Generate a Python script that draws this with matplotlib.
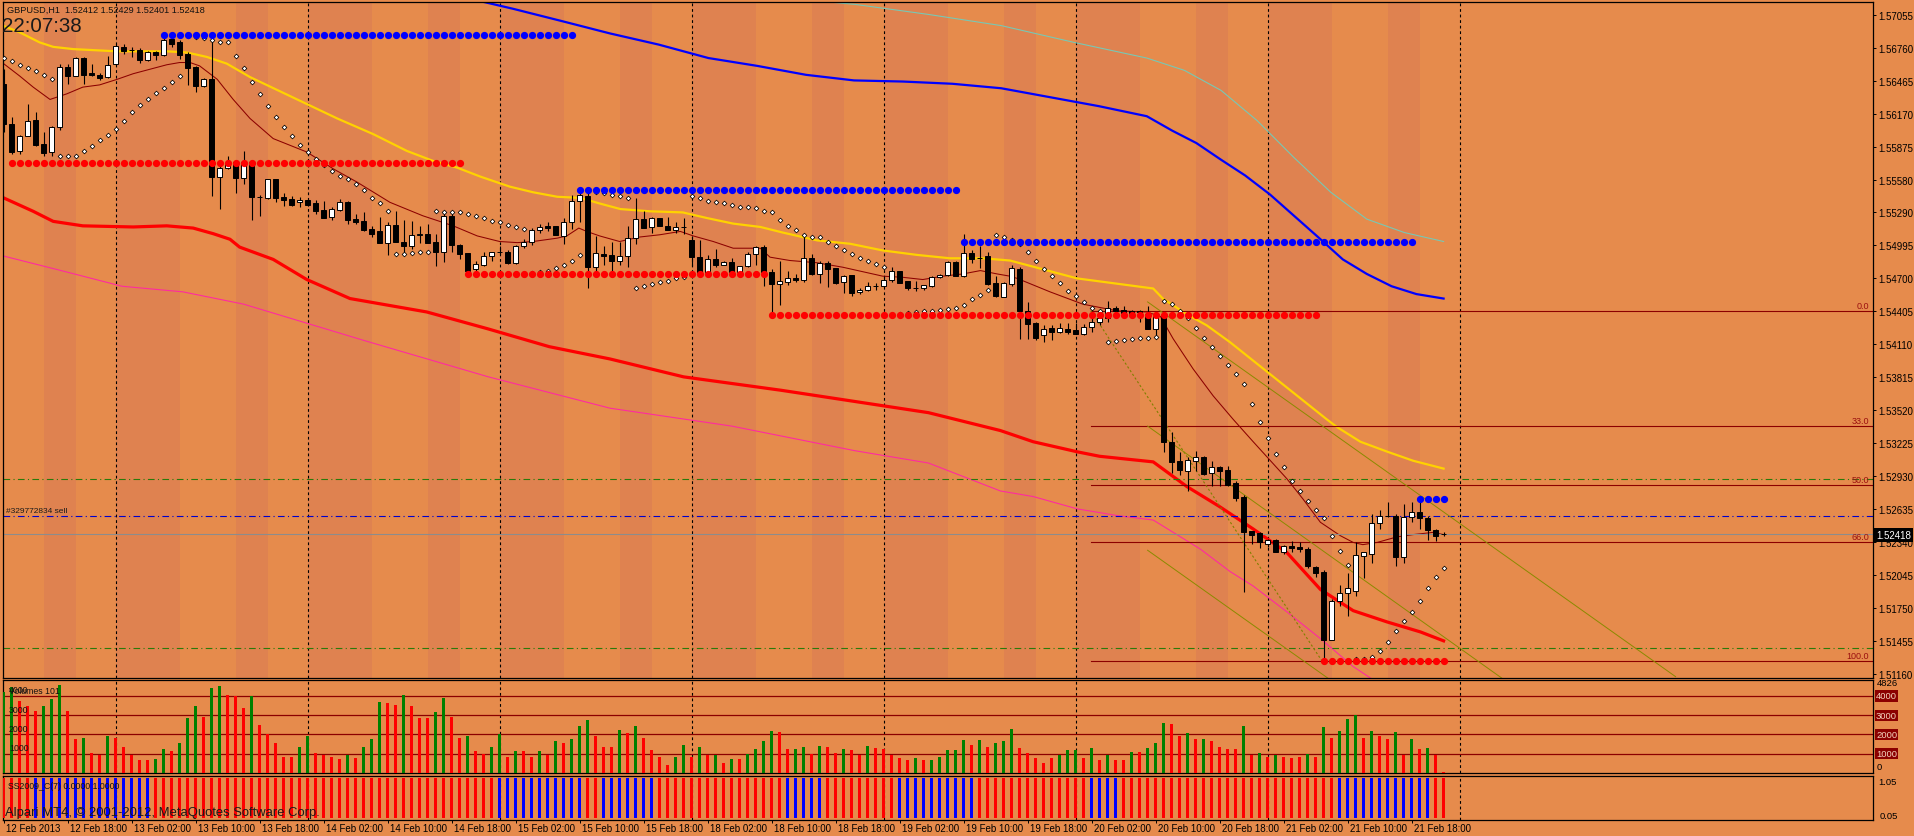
#!/usr/bin/env python3
"""GBPUSD H1 terminal-style chart: candles, MAs, SAR, levels, volumes, SS2009 strip."""

import matplotlib
matplotlib.use("Agg")
import matplotlib.pyplot as plt
import matplotlib.transforms as mtrans
import numpy as np

plt.rcParams["font.family"] = ["Liberation Sans", "DejaVu Sans"]

W, H = 1914, 837
BG = "#E68B4C"
STRIPE = "#DF8250"

# ---------------- candles (bar 0 = 12 Feb 10:00, one bar per hour) ----------------
opens = [
    1.5644, 1.5608, 1.5584, 1.5597, 1.5612, 1.5590, 1.5583, 1.5605, 1.5659, 1.5651,
    1.5667, 1.5654, 1.5652, 1.5650, 1.5662, 1.5677, 1.5674, 1.5674, 1.5665, 1.5672,
    1.5670, 1.5684, 1.5681, 1.5671, 1.5659, 1.5642, 1.5648, 1.5561, 1.5569, 1.5574,
    1.5560, 1.5574, 1.5543, 1.5542, 1.5559, 1.5543, 1.5541, 1.5538, 1.5540, 1.5537,
    1.5531, 1.5525, 1.5531, 1.5538, 1.5523, 1.5521, 1.5514, 1.5512, 1.5502, 1.5518,
    1.5503, 1.5499, 1.5509, 1.5510, 1.5503, 1.5494, 1.5526, 1.5500, 1.5493, 1.5478,
    1.5482, 1.5490, 1.5494, 1.5494, 1.5484, 1.5499, 1.5503, 1.5513, 1.5517, 1.5517,
    1.5508, 1.5520, 1.5539, 1.5544, 1.5480, 1.5492, 1.5491, 1.5486, 1.5490, 1.5506,
    1.5523, 1.5516, 1.5524, 1.5517, 1.5513, 1.5516, 1.5504, 1.5489, 1.5474, 1.5487,
    1.5482, 1.5485, 1.5476, 1.5481, 1.5492, 1.5498, 1.5476, 1.5465, 1.5467, 1.5470,
    1.5469, 1.5488, 1.5474, 1.5484, 1.5479, 1.5467, 1.5473, 1.5458, 1.5460, 1.5463,
    1.5463, 1.5469, 1.5477, 1.5468, 1.5461, 1.5461, 1.5463, 1.5471, 1.5473, 1.5485,
    1.5472, 1.5493, 1.5488, 1.5490, 1.5466, 1.5453, 1.5465, 1.5478, 1.5441, 1.5430,
    1.5419, 1.5426, 1.5422, 1.5425, 1.5424, 1.5420, 1.5427, 1.5431, 1.5435, 1.5444,
    1.5442, 1.5441, 1.5441, 1.5438, 1.5425, 1.5436, 1.5324, 1.5307, 1.5298, 1.5307,
    1.5310, 1.5296, 1.5301, 1.5299, 1.5287, 1.5275, 1.5244, 1.5242, 1.5233, 1.5236,
    1.5225, 1.5231, 1.5230, 1.5228, 1.5212, 1.5208, 1.5147, 1.5182, 1.5189, 1.5191,
    1.5222, 1.5224, 1.5251, 1.5258, 1.5258, 1.5221, 1.5257, 1.5261, 1.5256, 1.5245,
    1.52412,
]
highs = [
    1.5657, 1.5614, 1.5598, 1.5626, 1.5619, 1.5601, 1.5606, 1.5662, 1.5662, 1.5668,
    1.5668, 1.5662, 1.5654, 1.5669, 1.5680, 1.5680, 1.5677, 1.5676, 1.5673, 1.5673,
    1.5685, 1.5687, 1.5683, 1.5672, 1.5660, 1.5649, 1.5683, 1.5571, 1.5579, 1.5574,
    1.5584, 1.5575, 1.5545, 1.5559, 1.5559, 1.5546, 1.5544, 1.5543, 1.5541, 1.5540,
    1.5539, 1.5534, 1.5541, 1.5539, 1.5528, 1.5529, 1.5517, 1.5525, 1.5520, 1.5530,
    1.5522, 1.5521, 1.5517, 1.5519, 1.5510, 1.5528, 1.5528, 1.5501, 1.5493, 1.5486,
    1.5494, 1.5494, 1.5499, 1.5495, 1.5500, 1.5505, 1.5515, 1.5519, 1.5520, 1.5517,
    1.5524, 1.5545, 1.5548, 1.5546, 1.5508, 1.5499, 1.5503, 1.5503, 1.5517, 1.5542,
    1.5530, 1.5525, 1.5524, 1.5525, 1.5520, 1.5524, 1.5508, 1.5504, 1.5491, 1.5496,
    1.5486, 1.5488, 1.5481, 1.5494, 1.5499, 1.5500, 1.5478, 1.5486, 1.5477, 1.5474,
    1.5510, 1.5492, 1.5486, 1.5486, 1.5479, 1.5473, 1.5473, 1.5461, 1.5467, 1.5466,
    1.5472, 1.5480, 1.5477, 1.5468, 1.5468, 1.5464, 1.5472, 1.5474, 1.5486, 1.5486,
    1.5510, 1.5495, 1.5499, 1.5494, 1.5472, 1.5467, 1.5482, 1.5480, 1.5449, 1.5431,
    1.5428, 1.5428, 1.5430, 1.5430, 1.5430, 1.5429, 1.5435, 1.5441, 1.5450, 1.5445,
    1.5445, 1.5442, 1.5442, 1.5445, 1.5438, 1.5438, 1.5333, 1.5315, 1.5310, 1.5316,
    1.5311, 1.5307, 1.5302, 1.5302, 1.5289, 1.5276, 1.5244, 1.5243, 1.5237, 1.5237,
    1.5232, 1.5235, 1.5234, 1.5230, 1.5213, 1.5209, 1.5183, 1.5196, 1.5207, 1.5234,
    1.5225, 1.5259, 1.5263, 1.5270, 1.5259, 1.5268, 1.5270, 1.5272, 1.5258, 1.5246,
    1.52429,
]
lows = [
    1.5601, 1.5581, 1.5581, 1.5597, 1.5588, 1.5579, 1.5579, 1.5603, 1.5644, 1.5651,
    1.5644, 1.5651, 1.5647, 1.5649, 1.5661, 1.5671, 1.5668, 1.5663, 1.5664, 1.5665,
    1.5669, 1.5677, 1.5666, 1.5643, 1.5637, 1.5641, 1.5544, 1.5532, 1.5568, 1.5546,
    1.5554, 1.5522, 1.5526, 1.5541, 1.5538, 1.5535, 1.5535, 1.5534, 1.5535, 1.5528,
    1.5524, 1.5522, 1.5530, 1.5519, 1.5519, 1.5512, 1.5507, 1.5502, 1.5491, 1.5503,
    1.5494, 1.5496, 1.5502, 1.5502, 1.5481, 1.5485, 1.5494, 1.5487, 1.5475, 1.5477,
    1.5481, 1.5486, 1.5492, 1.5483, 1.5483, 1.5497, 1.5500, 1.5511, 1.5512, 1.5509,
    1.5501, 1.5514, 1.5520, 1.5461, 1.5477, 1.5482, 1.5476, 1.5482, 1.5480, 1.5501,
    1.5515, 1.5511, 1.5517, 1.5513, 1.5511, 1.5510, 1.5481, 1.5471, 1.5474, 1.5480,
    1.5482, 1.5476, 1.5476, 1.5480, 1.5482, 1.5463, 1.5438, 1.5446, 1.5464, 1.5467,
    1.5467, 1.5473, 1.5466, 1.5462, 1.5465, 1.5457, 1.5454, 1.5456, 1.5459, 1.5460,
    1.5462, 1.5467, 1.5466, 1.5460, 1.5459, 1.5460, 1.5462, 1.5470, 1.5472, 1.5472,
    1.5471, 1.5484, 1.5479, 1.5464, 1.5453, 1.5453, 1.5463, 1.5416, 1.5416, 1.5415,
    1.5413, 1.5415, 1.5421, 1.5420, 1.5420, 1.5419, 1.5422, 1.5428, 1.5431, 1.5440,
    1.5438, 1.5436, 1.5431, 1.5425, 1.5418, 1.5315, 1.5296, 1.5294, 1.5280, 1.5298,
    1.5294, 1.5284, 1.5284, 1.5284, 1.5271, 1.5190, 1.5233, 1.5229, 1.5230, 1.5225,
    1.5224, 1.5225, 1.5225, 1.5211, 1.5203, 1.5130, 1.5147, 1.5177, 1.5168, 1.5186,
    1.5202, 1.5216, 1.5246, 1.5257, 1.5213, 1.5216, 1.5252, 1.5246, 1.5236, 1.5235,
    1.52401,
]
closes = [
    1.5608, 1.5583, 1.5597, 1.5611, 1.5589, 1.5582, 1.5605, 1.5659, 1.5651, 1.5667,
    1.5652, 1.5652, 1.5649, 1.5661, 1.5678, 1.5673, 1.5674, 1.5665, 1.5672, 1.5670,
    1.5683, 1.5680, 1.5670, 1.5658, 1.5642, 1.5648, 1.5561, 1.5569, 1.5572, 1.5560,
    1.5574, 1.5543, 1.5543, 1.5559, 1.5542, 1.5540, 1.5536, 1.5540, 1.5536, 1.5530,
    1.5524, 1.5532, 1.5538, 1.5522, 1.5520, 1.5513, 1.5510, 1.5502, 1.5518, 1.5503,
    1.5499, 1.5509, 1.5510, 1.5502, 1.5494, 1.5526, 1.5500, 1.5492, 1.5477, 1.5483,
    1.5490, 1.5494, 1.5494, 1.5484, 1.5499, 1.5503, 1.5513, 1.5516, 1.5515, 1.5509,
    1.5520, 1.5539, 1.5545, 1.5480, 1.5493, 1.5490, 1.5486, 1.5490, 1.5506, 1.5523,
    1.5515, 1.5524, 1.5517, 1.5513, 1.5516, 1.5516, 1.5489, 1.5475, 1.5487, 1.5482,
    1.5485, 1.5476, 1.5481, 1.5492, 1.5498, 1.5476, 1.5465, 1.5468, 1.5470, 1.5469,
    1.5488, 1.5474, 1.5484, 1.5478, 1.5466, 1.5472, 1.5457, 1.5460, 1.5463, 1.5463,
    1.5469, 1.5477, 1.5466, 1.5461, 1.5461, 1.5464, 1.5471, 1.5473, 1.5485, 1.5472,
    1.5493, 1.5487, 1.5488, 1.5465, 1.5454, 1.5466, 1.5479, 1.5441, 1.5429, 1.5417,
    1.5425, 1.5422, 1.5426, 1.5422, 1.5420, 1.5427, 1.5431, 1.5435, 1.5444, 1.5441,
    1.5439, 1.5437, 1.5440, 1.5425, 1.5436, 1.5324, 1.5306, 1.5299, 1.5308, 1.5310,
    1.5295, 1.5301, 1.5298, 1.5285, 1.5274, 1.5243, 1.5241, 1.5234, 1.5236, 1.5225,
    1.5231, 1.5229, 1.5228, 1.5213, 1.5207, 1.5147, 1.5182, 1.5189, 1.5193, 1.5223,
    1.5225, 1.5251, 1.5258, 1.5258, 1.5221, 1.5257, 1.5261, 1.5256, 1.5245, 1.5240,
    1.52418,
]

# parabolic SAR value per bar
sar = [
    1.5667, 1.5664, 1.5661, 1.5658, 1.5655, 1.5652, 1.5648, 1.5579, 1.5579, 1.5579,
    1.5584, 1.5588, 1.5594, 1.5598, 1.5604, 1.5611, 1.5619, 1.5625, 1.5630, 1.5636,
    1.5640, 1.5646, 1.5651, 1.5687, 1.5686, 1.5685, 1.5683, 1.5681, 1.5681, 1.5669,
    1.5658, 1.5646, 1.5635, 1.5624, 1.5614, 1.5605, 1.5597, 1.5589, 1.5583, 1.5577,
    1.5571, 1.5566, 1.5562, 1.5559, 1.5554, 1.5549, 1.5542, 1.5537, 1.5530, 1.5492,
    1.5492, 1.5493, 1.5494, 1.5494, 1.5530, 1.5529, 1.5529, 1.5529, 1.5528, 1.5526,
    1.5524, 1.5521, 1.5520, 1.5518, 1.5516, 1.5514, 1.5475, 1.5476, 1.5477, 1.5479,
    1.5482, 1.5486, 1.5491, 1.5548, 1.5547, 1.5546, 1.5545, 1.5544, 1.5542, 1.5461,
    1.5463, 1.5465, 1.5467, 1.5468, 1.5470, 1.5471, 1.5544, 1.5542, 1.5539, 1.5538,
    1.5537, 1.5536, 1.5534, 1.5534, 1.5533, 1.5530, 1.5529, 1.5522, 1.5517, 1.5513,
    1.5509, 1.5507, 1.5507, 1.5503, 1.5499, 1.5495, 1.5492, 1.5488, 1.5486, 1.5483,
    1.5480, 1.5437, 1.5438, 1.5439, 1.5440, 1.5441, 1.5441, 1.5442, 1.5443, 1.5444,
    1.5446, 1.5452, 1.5455, 1.5460, 1.5509, 1.5507, 1.5504, 1.5501, 1.5494, 1.5486,
    1.5478, 1.5472, 1.5466, 1.5459, 1.5454, 1.5449, 1.5444, 1.5441, 1.5413, 1.5414,
    1.5415, 1.5416, 1.5417, 1.5417, 1.5418, 1.5450, 1.5447, 1.5441, 1.5435, 1.5426,
    1.5417, 1.5409, 1.5401, 1.5393, 1.5385, 1.5376, 1.5358, 1.5342, 1.5327, 1.5313,
    1.5301, 1.5289, 1.5280, 1.5271, 1.5263, 1.5256, 1.5240, 1.5226, 1.5214, 1.5130,
    1.5130, 1.5132, 1.5137, 1.5145, 1.5155, 1.5164, 1.5172, 1.5182, 1.5193, 1.5203,
    1.5211,
]

# moving averages, sampled at (bar position, price)
yellow_x = [-0.1, 2, 4.5, 6.2, 8.7, 14.2, 20.4, 22.9, 25.4, 27.9, 30.8, 41.7, 46.2, 50.4,
            53.7, 56.7, 59.6, 63.3, 66.2, 69.2, 72.1, 74.5, 77.1, 80.8, 84.9, 87.9, 91.2,
            94.6, 97.4, 101.7, 105.8, 109.9, 114.2, 118.3, 122.4, 125.8, 134.2, 143.7,
            144.9, 147.9, 150.4, 153.3, 165.4, 166.7, 169.6, 173, 176.2, 180]
yellow_v = [1.5696, 1.5690, 1.5681, 1.5677, 1.5675, 1.5673, 1.5673, 1.5672, 1.5668, 1.5662,
            1.5650, 1.5613, 1.5599, 1.5584, 1.5575, 1.5569, 1.5561, 1.5552, 1.5547, 1.5543,
            1.5542, 1.5537, 1.5532, 1.5530, 1.5529, 1.5524, 1.5519, 1.5516, 1.5511, 1.5504,
            1.5501, 1.5495, 1.5491, 1.5488, 1.5488, 1.5486, 1.5470, 1.5461, 1.5452, 1.5438,
            1.5428, 1.5413, 1.5344, 1.5337, 1.5324, 1.5315, 1.5307, 1.5300]
blue_x = [54.5, 58.3, 63.7, 69.8, 75.8, 81.9, 88.1, 94.2, 100.3, 106.3, 112.4, 118.6, 124.7,
          130.8, 136.9, 142.9, 146.1, 149.1, 152.2, 155.2, 158.3, 161.3, 164.3, 167.4, 170.4,
          173.5, 176.6, 180]
blue_v = [1.5729, 1.5720, 1.5711, 1.5700, 1.5689, 1.5679, 1.5667, 1.5660, 1.5652, 1.5647,
          1.5646, 1.5644, 1.5640, 1.5632, 1.5624, 1.5615, 1.5602, 1.5591, 1.5576, 1.5562,
          1.5545, 1.5526, 1.5507, 1.5487, 1.5474, 1.5463, 1.5456, 1.5452]
cyan_x = [92, 98.7, 106.4, 115.6, 124.7, 133.8, 142.9, 147.6, 152.2, 156.7, 161.3, 165.9,
          170.4, 175.1, 180]
cyan_v = [1.5725, 1.5720, 1.5715, 1.5706, 1.5696, 1.5681, 1.5667, 1.5656, 1.5638, 1.5611,
          1.5578, 1.5547, 1.5523, 1.5511, 1.5503]
red_x = [0, 3.7, 6.2, 9.9, 16.2, 20.4, 23.7, 26.2, 28.3, 29.5, 33.7, 37.9, 43.3, 52.9, 60.5,
         68.2, 75.8, 85, 97.2, 106.4, 115.6, 124.6, 128.7, 134.2, 137, 143.7, 147.9, 152,
         156.2, 160.4, 164.6, 168.7, 172.9, 177.1, 180]
red_v = [1.5542, 1.5530, 1.5521, 1.5517, 1.5516, 1.5517, 1.5515, 1.5510, 1.5505, 1.5498,
         1.5487, 1.5469, 1.5452, 1.5440, 1.5425, 1.5409, 1.5398, 1.5382, 1.5370, 1.5360,
         1.5350, 1.5334, 1.5324, 1.5315, 1.5311, 1.5306, 1.5284, 1.5266, 1.5246, 1.5225,
         1.5192, 1.5173, 1.5163, 1.5154, 1.5146]
pink_x = [0, 7.2, 14.8, 22.4, 30, 45.3, 60.6, 75.8, 91, 106.4, 115.6, 124.6, 128.7, 134.2,
          139.2, 143.7, 146.2, 149.6, 153.3, 156.2, 160.4, 164.6, 168.7, 172.5, 180]
pink_v = [1.5490, 1.5477, 1.5463, 1.5458, 1.5447, 1.5414, 1.5382, 1.5354, 1.5338, 1.5316,
          1.5305, 1.5280, 1.5275, 1.5264, 1.5258, 1.5254, 1.5243, 1.5228, 1.5208, 1.5195,
          1.5172, 1.5148, 1.5123, 1.5105, 1.5070]
fast_x = [0, 2, 3.7, 5.8, 7.9, 9.9, 12, 14.2, 16.2, 18.3, 20.4, 22, 23.3, 24.5, 26.7, 28.7,
          30.8, 33.7, 37.9, 41.2, 44.2, 48.3, 52.4, 56.2, 59.2, 62, 64.2, 66.2, 69.2, 70.4,
          71.9, 72.9, 74.5, 77, 79.5, 82, 84.6, 86.2, 88.7, 91.2, 94.6, 95.8, 98.3, 101.7,
          104.9, 107.4, 109.9, 112.4, 114.9, 117.4, 119.9, 122.1, 124.2, 125.8, 126.7, 130.8,
          134.9, 139.2, 142.9, 144.6, 146.2, 148.7, 151.2, 153.7, 156.2, 160.4, 162.4, 164.6,
          167.1, 168.7, 169.9, 171.7, 174.2, 176.2, 178.7, 180]
fast_v = [1.5662, 1.5651, 1.5641, 1.5630, 1.5635, 1.5641, 1.5643, 1.5648, 1.5653, 1.5657,
          1.5661, 1.5663, 1.5663, 1.5660, 1.5648, 1.5630, 1.5613, 1.5595, 1.5583, 1.5568,
          1.5556, 1.5538, 1.5526, 1.5517, 1.5508, 1.5503, 1.5502, 1.5503, 1.5506, 1.5508,
          1.5515, 1.5512, 1.5508, 1.5503, 1.5507, 1.5509, 1.5512, 1.5508, 1.5503, 1.5497,
          1.5497, 1.5489, 1.5486, 1.5484, 1.5480, 1.5476, 1.5472, 1.5471, 1.5469, 1.5472,
          1.5474, 1.5477, 1.5474, 1.5472, 1.5470, 1.5458, 1.5447, 1.5441, 1.5440, 1.5436,
          1.5416, 1.5389, 1.5365, 1.5344, 1.5324, 1.5291, 1.5273, 1.5252, 1.5240, 1.5234,
          1.5232, 1.5234, 1.5239, 1.5241, 1.5243, 1.5241]

# support / resistance dot rows: first bar, last bar, price
blue_dot_from = [20, 72, 120, 177]
blue_dot_to = [71, 119, 176, 180]
blue_dot_level = [1.5688, 1.5549, 1.5503, 1.5273]
red_dot_from = [1, 58, 96, 165]
red_dot_to = [57, 95, 164, 180]
red_dot_level = [1.5573, 1.5474, 1.5437, 1.5128]

# fibonacci retracement
fib_from, fib_to = 135.9, 164.8
fib_levels = [1.5441, 1.5338, 1.5285, 1.5234, 1.5128]
fib_labels = ["0.0", "33.0", "50.0", "66.0", "100.0"]

# trend channel: start bar/price, end bar/price for each line
chan_x0 = [143, 143, 143]
chan_y0 = [1.5449, 1.5338, 1.5227]
chan_x1 = [209, 188, 170]
chan_y1 = [1.5114, 1.5109, 1.5090]

# order / stop levels
green_levels = [1.5291, 1.5140]
order_level = 1.5258
order_text = "#329772834 sell"
bid = 1.52418

# session shading (bar positions) and day separators
stripe_from = [5, 14, 29, 38, 53, 62, 77, 86, 101, 110, 125, 134, 149, 158, 173]
stripe_to = [9, 22, 33, 46, 57, 70, 81, 94, 105, 118, 129, 142, 153, 166, 177]
day_starts = [14, 38, 62, 86, 110, 134, 158, 182]

# volumes and their up/down colouring
volumes = [
    4210, 4470, 3720, 3470, 3230, 3470, 3860, 4560, 3230, 1750,
    1840, 1050, 950, 1930, 1840, 1370, 950, 650, 650, 740,
    1260, 1120, 1540, 2840, 3470, 2930, 4390, 4530, 4070, 4000,
    3390, 4000, 2490, 2020, 1540, 810, 810, 1330, 1930, 1050,
    950, 810, 740, 950, 770, 1330, 1790, 3700, 3650, 3540,
    4070, 3490, 2840, 2840, 3180, 3910, 2930, 1820, 1910, 1120,
    1000, 1370, 2000, 840, 1120, 1120, 840, 1120, 950, 1650,
    1580, 1740, 2420, 2740, 1930, 1370, 1370, 2210, 2070, 2420,
    1840, 1180, 810, 440, 840, 1470, 810, 1370, 910, 910,
    530, 740, 740, 1000, 1260, 1650, 2180, 2120, 1230, 1260,
    1370, 1000, 1420, 1370, 1020, 1260, 1210, 930, 1420, 1320,
    1230, 910, 790, 700, 790, 650, 700, 810, 1180, 1180,
    1700, 1440, 1700, 1330, 1580, 1650, 2280, 1280, 1020, 770,
    530, 790, 930, 1180, 1180, 770, 1280, 700, 930, 700,
    670, 1070, 1070, 1280, 1580, 2600, 2540, 1930, 2070, 1750,
    1750, 1650, 1370, 1260, 1230, 2440, 910, 1050, 840, 910,
    840, 790, 840, 1000, 840, 2370, 1810, 2180, 2810, 3020,
    1810, 2180, 1930, 1750, 2120, 910, 1750, 1230, 1280, 950,
    70,
]
vol_dir = ("ggrrrgggrr" "grrgrrrrrg" "grgggrggrr" "rgrrrrrggr" "rrrgrgggrr"
           "grrrggrrgr" "rggrgrrgrg" "rgggrrrgrg" "rrrrggrgrg" "rgrggggrrg"
           "grgrrgrrgr" "rrrrgrgggg" "grgrgggrrr" "rrgggrgrgr" "rgrgggrrgr"
           "grrrrgrgrg" "rrrgrgrggg" "rgrrgrgrgr" "r")
vol_levels = [1000, 2000, 3000, 4000]
vol_max = 4826

# SS2009 histogram: runs of blue bars, everything else red
ss_blue_from = [4, 62, 75, 98, 112, 136, 167]
ss_blue_to = [18, 72, 81, 102, 121, 139, 178]

price_labels = ["1.57055", "1.56760", "1.56465", "1.56170", "1.55875", "1.55580", "1.55290",
                "1.54995", "1.54700", "1.54405", "1.54110", "1.53815", "1.53520", "1.53225",
                "1.52930", "1.52635", "1.52340", "1.52045", "1.51750", "1.51455", "1.51160"]
time_labels = ["12 Feb 2013", "12 Feb 18:00", "13 Feb 02:00", "13 Feb 10:00", "13 Feb 18:00",
               "14 Feb 02:00", "14 Feb 10:00", "14 Feb 18:00", "15 Feb 02:00", "15 Feb 10:00",
               "15 Feb 18:00", "18 Feb 02:00", "18 Feb 10:00", "18 Feb 18:00", "19 Feb 02:00",
               "19 Feb 10:00", "19 Feb 18:00", "20 Feb 02:00", "20 Feb 10:00", "20 Feb 18:00",
               "21 Feb 02:00", "21 Feb 10:00", "21 Feb 18:00"]


def px_axes(fig, x0, y0, x1, y1):
    return fig.add_axes([x0 / W, 1 - y1 / H, (x1 - x0) / W, (y1 - y0) / H])


def ftext(fig, x, y, s, **kw):
    return fig.text(x / W, 1 - y / H, s, **kw)


def main() -> None:
    fig = plt.figure(figsize=(W / 100, H / 100), dpi=100)
    fig.patch.set_facecolor(BG)

    ax = px_axes(fig, 3, 3, 1873, 679)
    axv = px_axes(fig, 3, 681, 1873, 774)
    axs = px_axes(fig, 3, 777, 1873, 821)
    xlim = (-0.075, 233.675)
    for a in (ax, axv, axs):
        a.set_facecolor(BG)
        a.set_xlim(*xlim)
        for sp in a.spines.values():
            sp.set_color("black")
            sp.set_linewidth(0.9)
        for d in day_starts:
            a.axvline(d, color="black", lw=0.8, ls=(0, (2.5, 2.5)), zorder=1)

    idx = np.arange(len(opens))
    o, h, l, c = map(np.array, (opens, highs, lows, closes))

    # ---- main price panel ----
    ax.set_ylim(1.51128, 1.57171)
    for s0, s1 in zip(stripe_from, stripe_to):
        ax.axvspan(s0, s1, color=STRIPE, lw=0, zorder=0)

    ax.plot(cyan_x, cyan_v, color="#78C8B4", lw=0.8, zorder=2)
    ax.plot(blue_x, blue_v, color="#0000FF", lw=1.6, zorder=2)
    ax.plot(pink_x, pink_v, color="#FF2AA0", lw=0.8, zorder=2)
    ax.plot(red_x, red_v, color="#FF0000", lw=2.3, zorder=2)
    ax.plot(yellow_x, yellow_v, color="#FFD200", lw=1.6, zorder=2)
    ax.plot(fast_x, fast_v, color="#8B0000", lw=0.75, zorder=2)

    for lv in green_levels:
        ax.axhline(lv, color="#2A7A0A", lw=0.8, ls=(0, (6, 3, 1, 3)), zorder=2)
    ax.axhline(order_level, color="#0000CC", lw=0.8, ls=(0, (6, 3, 1, 3)), zorder=2)
    ax.text(0.3, order_level + 0.00012, order_text, fontsize=6, color="#1A1A1A",
            va="bottom", ha="left", zorder=3)
    ax.axhline(bid, color="#8C8C8C", lw=0.8, zorder=2)

    for lv, lab in zip(fib_levels, fib_labels):
        ax.plot([fib_from, xlim[1]], [lv, lv], color="#8B0000", lw=0.8, zorder=2)
        ax.text(233.2, lv + 0.0001, lab, fontsize=6.5, color="#9B1010",
                ha="right", va="bottom", zorder=3)
    ax.plot([fib_from, fib_to], [fib_levels[0], fib_levels[-1]], color="#808000",
            lw=0.8, ls=(0, (2, 2)), zorder=2)
    for x0, y0, x1, y1 in zip(chan_x0, chan_y0, chan_x1, chan_y1):
        ax.plot([x0, x1], [y0, y1], color="#8A8A00", lw=0.7, zorder=2)

    # candles
    ax.vlines(idx, l, h, color="black", lw=0.8, zorder=5)
    up = c >= o
    ax.bar(idx, np.abs(c - o), bottom=np.minimum(o, c), width=0.62,
           color=np.where(up, "white", "black"), edgecolor="black", linewidth=0.7, zorder=6)

    # SAR and dot levels
    ax.plot(idx, sar, ls="none", marker="D", ms=2.4, mfc="white", mec="black",
            mew=0.55, zorder=7)
    for f, t, lv in zip(blue_dot_from, blue_dot_to, blue_dot_level):
        xs = np.arange(f, t + 1)
        ax.plot(xs, np.full(len(xs), lv), ls="none", marker="o", ms=4.2,
                color="#0000FF", zorder=8)
    for f, t, lv in zip(red_dot_from, red_dot_to, red_dot_level):
        xs = np.arange(f, t + 1)
        ax.plot(xs, np.full(len(xs), lv), ls="none", marker="o", ms=4.2,
                color="#FF0000", zorder=8)

    ax.set_xticks([])
    ax.set_yticks([float(s) for s in price_labels])
    ax.set_yticklabels(price_labels)
    ax.yaxis.tick_right()
    ax.tick_params(axis="y", length=2.5, width=0.7, pad=1.5, labelsize=7, colors="black")

    # ---- volume panel ----
    axv.set_ylim(0, vol_max)
    vcol = ["#008000" if d == "g" else "#FF0000" for d in vol_dir]
    axv.bar(idx, volumes, width=0.38, color=vcol, zorder=3)
    for lv in vol_levels:
        axv.axhline(lv, color="#8B0000", lw=0.9, zorder=2)
    axv.set_xticks([])
    axv.set_yticks([])

    # ---- SS2009 panel ----
    axs.set_ylim(-0.05, 1.05)
    scol = np.array(["#FF0000"] * len(idx), dtype=object)
    for f, t in zip(ss_blue_from, ss_blue_to):
        scol[f:t + 1] = "#0000FF"
    axs.bar(idx, np.ones(len(idx)), width=0.38, color=list(scol), zorder=3)
    axs.set_yticks([])
    tick_pos = np.arange(0, 8 * len(time_labels), 8)
    axs.set_xticks(tick_pos)
    axs.set_xticklabels([])
    axs.tick_params(axis="x", length=2.5, width=0.7, direction="out", colors="black")
    tr = mtrans.blended_transform_factory(axs.transData, axs.transAxes)
    for p, lab in zip(tick_pos, time_labels):
        axs.text(p + 0.3, -0.19, lab, transform=tr, fontsize=7, ha="left", va="center",
                 clip_on=False)

    # ---- texts ----
    ftext(fig, 7, 10, "GBPUSD,H1  1.52412 1.52429 1.52401 1.52418", fontsize=6.6,
          va="center", ha="left", color="#111111")
    ftext(fig, 2, 26, "22:07:38", fontsize=14.8, va="center", ha="left", color="#1A1A1A")
    ftext(fig, 9, 692, "Volumes 101", fontsize=6.3, va="center", color="#111111")
    for lv in vol_levels:
        yy = 774 - lv / vol_max * 93 - 6
        ftext(fig, 9, yy, str(lv), fontsize=6.3, va="center", color="#111111")
    ftext(fig, 8, 787, "SS2009_C(7) 0.0000 1.0000", fontsize=6.3, va="center", color="#111111")
    ftext(fig, 5, 813, "Alpari MT4, \u00a9 2001-2012, MetaQuotes Software Corp.",
          fontsize=9.4, va="center", color="#1A1A1A")

    # right-hand labels
    ftext(fig, 1876, 536, "1.52418", fontsize=7, va="center", ha="left", color="white",
          bbox=dict(facecolor="black", edgecolor="none", pad=1.2))
    ftext(fig, 1877, 684, str(vol_max), fontsize=6.8, va="center", ha="left", color="black")
    for lv in vol_levels:
        yy = 774 - lv / vol_max * 93
        ftext(fig, 1876, yy, str(lv), fontsize=6.8, va="center", ha="left", color="#F2D2BC",
              bbox=dict(facecolor="#8B0000", edgecolor="none", pad=0.8))
    ftext(fig, 1877, 768, "0", fontsize=6.8, va="center", ha="left", color="black")
    ftext(fig, 1878, 783, "1.05", fontsize=6.8, va="center", ha="left", color="black")
    ftext(fig, 1880, 817, "0.05", fontsize=6.8, va="center", ha="left", color="black")

    fig.savefig("out.png", dpi=100, facecolor=BG)


if __name__ == "__main__":
    main()
